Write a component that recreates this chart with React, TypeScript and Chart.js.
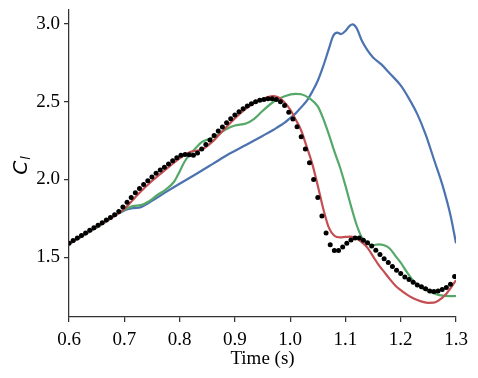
import { useEffect, useRef } from "react";
import { Chart, registerables } from "chart.js";

Chart.register(...registerables);

const timeTicks = [0.6, 0.7, 0.8, 0.9, 1.0, 1.1, 1.2, 1.3];
const clTicks = [1.5, 2.0, 2.5, 3.0];

const expTime = [
  0.6, 0.6075, 0.615, 0.6225, 0.63, 0.6375, 0.645, 0.6525, 0.66, 0.6675,
  0.675, 0.6825, 0.69, 0.6975, 0.705, 0.7125, 0.72, 0.7275, 0.735, 0.7425,
  0.75, 0.7575, 0.765, 0.7725, 0.78, 0.7875, 0.795, 0.8025, 0.81, 0.8175,
  0.825, 0.8325, 0.84, 0.8475, 0.855, 0.8625, 0.87, 0.8775, 0.885, 0.8925,
  0.9, 0.9075, 0.915, 0.9225, 0.93, 0.9375, 0.945, 0.9525, 0.96, 0.9675,
  0.975, 0.9825, 0.99, 0.9975, 1.005, 1.0125, 1.02, 1.0275, 1.035, 1.0425,
  1.05, 1.0575, 1.065, 1.0725, 1.08, 1.0875, 1.095, 1.1025, 1.11, 1.1175,
  1.125, 1.1325, 1.14, 1.1475, 1.155, 1.1625, 1.17, 1.1775, 1.185, 1.1925,
  1.2, 1.2075, 1.215, 1.2225, 1.23, 1.2375, 1.245, 1.2525, 1.26, 1.2675,
  1.275, 1.2825, 1.29, 1.2975,
];
const expCl = [
  1.59, 1.607, 1.623, 1.64, 1.656, 1.673, 1.689, 1.706, 1.722, 1.739,
  1.755, 1.772, 1.794, 1.822, 1.854, 1.884, 1.914, 1.942, 1.968, 1.991,
  2.015, 2.039, 2.06, 2.079, 2.099, 2.12, 2.139, 2.156, 2.161, 2.158,
  2.156, 2.17, 2.195, 2.225, 2.253, 2.283, 2.311, 2.338, 2.365, 2.39,
  2.414, 2.435, 2.455, 2.472, 2.487, 2.499, 2.509, 2.515, 2.519, 2.519,
  2.515, 2.5, 2.475, 2.432, 2.388, 2.339, 2.274, 2.195, 2.107, 2.0,
  1.884, 1.764, 1.656, 1.579, 1.543, 1.543, 1.566, 1.59, 1.611, 1.624,
  1.624, 1.609, 1.592, 1.572, 1.545, 1.517, 1.489, 1.466, 1.44, 1.416,
  1.395, 1.373, 1.356, 1.339, 1.321, 1.309, 1.296, 1.283, 1.279, 1.283,
  1.292, 1.305, 1.326, 1.375,
];

const blueTime = [
  0.6, 0.65, 0.7, 0.715, 0.73, 0.75, 0.775, 0.8, 0.83, 0.86, 0.89, 0.92,
  0.95, 0.97, 0.99, 1.0, 1.01, 1.02, 1.03, 1.04, 1.05, 1.06, 1.07, 1.078,
  1.085, 1.092, 1.1, 1.108, 1.113, 1.12, 1.13, 1.14, 1.15, 1.165, 1.18,
  1.2, 1.215, 1.23, 1.245, 1.26, 1.275, 1.29, 1.3,
];
const blueCl = [
  1.585, 1.69, 1.8, 1.815, 1.822, 1.862, 1.918, 1.972, 2.035, 2.1, 2.165,
  2.222, 2.28, 2.32, 2.365, 2.395, 2.425, 2.465, 2.505, 2.565, 2.635, 2.73,
  2.84, 2.925, 2.945, 2.935, 2.955, 2.99, 2.998, 2.975, 2.89, 2.83, 2.785,
  2.74, 2.683, 2.605, 2.52, 2.42, 2.29, 2.13, 1.97, 1.77, 1.59,
];

const greenTime = [
  0.6, 0.65, 0.7, 0.715, 0.73, 0.745, 0.76, 0.775, 0.79, 0.8, 0.81, 0.82,
  0.83, 0.84, 0.855, 0.87, 0.885, 0.9, 0.92, 0.935, 0.95, 0.97, 0.99, 1.01,
  1.02, 1.035, 1.05, 1.06, 1.07, 1.08, 1.09, 1.1, 1.11, 1.12, 1.13, 1.14,
  1.15, 1.16, 1.17, 1.18, 1.19, 1.2, 1.21, 1.22, 1.235, 1.25, 1.27, 1.29, 1.3,
];
const greenCl = [
  1.585, 1.69, 1.805, 1.828, 1.835, 1.86, 1.9, 1.935, 1.985, 2.05, 2.12,
  2.165, 2.205, 2.24, 2.262, 2.29, 2.325, 2.347, 2.36, 2.39, 2.44, 2.5,
  2.535, 2.55, 2.548, 2.522, 2.47, 2.39, 2.29, 2.18, 2.08, 1.96, 1.83, 1.71,
  1.625, 1.585, 1.577, 1.582, 1.576, 1.556, 1.51, 1.465, 1.41, 1.36, 1.309,
  1.28, 1.256, 1.249, 1.25,
];

const redTime = [
  0.6, 0.65, 0.7, 0.725, 0.75, 0.775, 0.8, 0.82, 0.84, 0.86, 0.88, 0.9,
  0.92, 0.94, 0.96, 0.97, 0.98, 0.99, 1.0, 1.01, 1.02, 1.03, 1.04, 1.05,
  1.06, 1.07, 1.08, 1.09, 1.1, 1.11, 1.12, 1.13, 1.14, 1.15, 1.16, 1.17,
  1.18, 1.19, 1.2, 1.21, 1.22, 1.23, 1.24, 1.25, 1.26, 1.27, 1.28, 1.29, 1.3,
];
const redCl = [
  1.585, 1.695, 1.81, 1.905, 1.99, 2.064, 2.135, 2.178, 2.192, 2.245, 2.32,
  2.393, 2.455, 2.502, 2.53, 2.536, 2.525, 2.495, 2.45, 2.385, 2.315, 2.21,
  2.1, 1.96, 1.81, 1.69, 1.638, 1.627, 1.63, 1.632, 1.622, 1.595, 1.56,
  1.505, 1.45, 1.405, 1.36, 1.318, 1.288, 1.262, 1.24, 1.224, 1.212, 1.206,
  1.207, 1.225, 1.255, 1.3, 1.352,
];

const xLabel = "Time (s)";
const yMain = "C";
const ySub = "l";

function pts(xs: number[], ys: number[]) {
  return xs.map((x, i) => ({ x, y: ys[i] }));
}

const axisColor = "#333333";
const fontFamily = "'Liberation Serif', 'Times New Roman', serif";
const tickFont = { family: fontFamily, size: 19 };
const yTickFont = { family: fontFamily, size: 19, lineHeight: 0.5 };

const yLabelPlugin = {
  id: "yLabel",
  afterDraw(chart: any) {
    const { ctx, chartArea } = chart;
    const cy = (chartArea.top + chartArea.bottom) / 2;
    ctx.save();
    ctx.translate(27, cy + 2);
    ctx.rotate(-Math.PI / 2);
    ctx.fillStyle = "#000";
    ctx.textBaseline = "alphabetic";
    ctx.textAlign = "left";
    ctx.font = "italic 20px 'DejaVu Sans'";
    const wC = ctx.measureText(yMain).width;
    ctx.font = "italic 13px 'DejaVu Sans'";
    const wl = ctx.measureText(ySub).width;
    const total = wC + wl + 1;
    ctx.font = "italic 20px 'DejaVu Sans'";
    ctx.fillText(yMain, -total / 2, 0);
    ctx.font = "italic 13px 'DejaVu Sans'";
    ctx.fillText(ySub, -total / 2 + wC + 1, 3);
    ctx.restore();
  },
};

export default function App() {
  const ref = useRef<HTMLCanvasElement | null>(null);
  useEffect(() => {
    if (!ref.current) return;
    const chart = new Chart(ref.current, {
      type: "scatter",
      data: {
        datasets: [
          {
            label: "exp",
            data: pts(expTime, expCl),
            showLine: false,
            pointRadius: 2.5,
            pointBackgroundColor: "#000",
            pointBorderWidth: 0,
            order: 0,
          },
          {
            label: "red",
            data: pts(redTime, redCl),
            showLine: true,
            borderColor: "#c44e52",
            borderWidth: 2.2,
            pointRadius: 0,
            cubicInterpolationMode: "monotone",
            order: 1,
          },
          {
            label: "green",
            data: pts(greenTime, greenCl),
            showLine: true,
            borderColor: "#55a868",
            borderWidth: 2.2,
            pointRadius: 0,
            cubicInterpolationMode: "monotone",
            order: 2,
          },
          {
            label: "blue",
            data: pts(blueTime, blueCl),
            showLine: true,
            borderColor: "#4c72b0",
            borderWidth: 2.2,
            pointRadius: 0,
            cubicInterpolationMode: "monotone",
            order: 3,
          },
        ],
      },
      options: {
        responsive: false,
        animation: false,
        devicePixelRatio: 1,
        layout: { padding: { top: 10, right: 22, left: 0, bottom: 8 } },
        plugins: { legend: { display: false }, tooltip: { enabled: false } },
        scales: {
          x: {
            type: "linear",
            min: 0.6,
            max: 1.3,
            afterBuildTicks: (s: any) => {
              s.ticks = timeTicks.map((v) => ({ value: v }));
            },
            afterFit: (s: any) => {
              s.height = 53;
            },
            ticks: {
              color: "#000",
              font: tickFont,
              padding: 7,
              maxRotation: 0,
              autoSkip: false,
              callback: (v: any) => Number(v).toFixed(1),
            },
            grid: { display: true, drawOnChartArea: false, drawTicks: true, tickLength: 5, color: axisColor, lineWidth: 1.25 },
            border: { display: true, color: axisColor, width: 1.25 },
            title: { display: true, text: xLabel, color: "#000", font: tickFont, padding: { top: 0, bottom: 0 } },
          },
          y: {
            type: "linear",
            min: 1.115,
            max: 3.09,
            afterBuildTicks: (s: any) => {
              s.ticks = clTicks.map((v) => ({ value: v }));
            },
            afterFit: (s: any) => {
              s.width = 69;
            },
            ticks: {
              color: "#000",
              font: yTickFont,
              padding: 4,
              autoSkip: false,
              callback: (v: any) => Number(v).toFixed(1),
            },
            grid: { display: true, drawOnChartArea: false, drawTicks: true, tickLength: 5, color: axisColor, lineWidth: 1.25 },
            border: { display: true, color: axisColor, width: 1.25 },
          },
        },
      },
      plugins: [yLabelPlugin],
    } as any);
    return () => chart.destroy();
  }, []);
  return (
    <div style={{ position: "fixed", left: 0, top: 0, width: 478, height: 378, background: "#fff" }}>
      <canvas ref={ref} width={478} height={378} style={{ width: 478, height: 378, display: "block" }} />
    </div>
  );
}
